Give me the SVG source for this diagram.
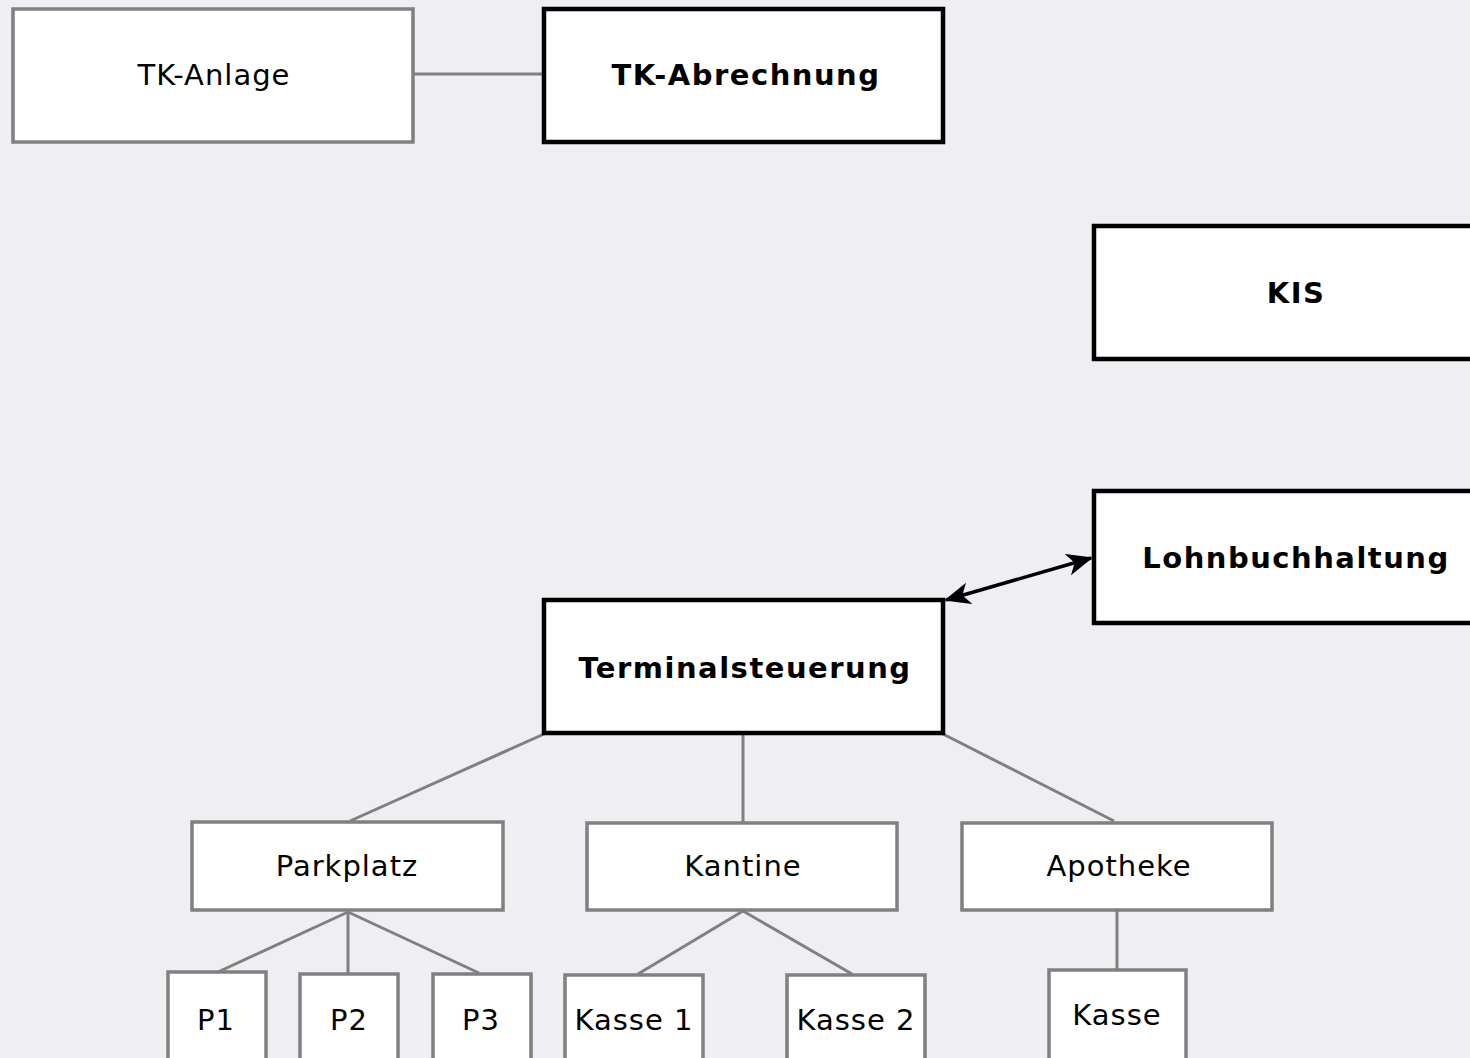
<svg xmlns="http://www.w3.org/2000/svg" width="1470" height="1058" viewBox="0 0 1470 1058">
  <defs>
    <style>
      .bg { fill: #eeeef3; }
      .box { fill: #ffffff; stroke: #808080; stroke-width: 3.5; }
      .main { fill: #ffffff; stroke: #000000; stroke-width: 4.5; }
      .lbl { font-family: "DejaVu Sans", "Noto Sans", sans-serif; font-size: 29px; fill: #000000; text-anchor: middle; letter-spacing: 1px; }
      .bold { font-weight: bold; letter-spacing: 1.5px; }
      .link { stroke: #808080; stroke-width: 3; fill: none; }
      .flow { stroke: #000000; stroke-width: 3.5; fill: none; }
    </style>
    <marker id="head" viewBox="0 0 26 24" refX="24" refY="12" markerWidth="26" markerHeight="24" markerUnits="userSpaceOnUse" orient="auto-start-reverse">
      <path d="M0,1 L26,12 L0,23 L7,12 Z" fill="#000000"/>
    </marker>
  </defs>

  <rect class="bg" x="0" y="0" width="1470" height="1058"/>

  <!-- connectors -->
  <g id="connectors">
    <line class="link" x1="413" y1="74" x2="544" y2="74"/>
    <line class="link" x1="544" y1="734" x2="350" y2="821"/>
    <line class="link" x1="743" y1="734" x2="743" y2="822"/>
    <line class="link" x1="943" y1="734" x2="1114" y2="821"/>
    <line class="link" x1="348" y1="912" x2="218" y2="972"/>
    <line class="link" x1="348" y1="912" x2="348" y2="973"/>
    <line class="link" x1="348" y1="912" x2="479" y2="973"/>
    <line class="link" x1="743" y1="911" x2="638" y2="974"/>
    <line class="link" x1="743" y1="911" x2="852" y2="974"/>
    <line class="link" x1="1117" y1="911" x2="1117" y2="970"/>
    <line class="flow" x1="946" y1="600" x2="1091" y2="558" marker-start="url(#head)" marker-end="url(#head)"/>
  </g>

  <!-- nodes -->
  <g id="tk-anlage">
    <rect class="box" x="13" y="9" width="400" height="133"/>
    <text class="lbl" x="214" y="85">TK-Anlage</text>
  </g>
  <g id="tk-abrechnung">
    <rect class="main" x="544" y="9" width="399" height="133"/>
    <text class="lbl bold" x="746" y="85">TK-Abrechnung</text>
  </g>
  <g id="kis">
    <rect class="main" x="1094" y="226" width="400" height="133"/>
    <text class="lbl bold" x="1296" y="303">KIS</text>
  </g>
  <g id="lohnbuchhaltung">
    <rect class="main" x="1094" y="491" width="400" height="132"/>
    <text class="lbl bold" x="1296" y="568">Lohnbuchhaltung</text>
  </g>
  <g id="terminalsteuerung">
    <rect class="main" x="544" y="600" width="399" height="133"/>
    <text class="lbl bold" x="745" y="678">Terminalsteuerung</text>
  </g>
  <g id="parkplatz">
    <rect class="box" x="192" y="822" width="311" height="88"/>
    <text class="lbl" x="347" y="876">Parkplatz</text>
  </g>
  <g id="kantine">
    <rect class="box" x="587" y="823" width="310" height="87"/>
    <text class="lbl" x="743" y="876">Kantine</text>
  </g>
  <g id="apotheke">
    <rect class="box" x="962" y="823" width="310" height="87"/>
    <text class="lbl" x="1119" y="876">Apotheke</text>
  </g>
  <g id="p1">
    <rect class="box" x="168" y="972" width="98" height="110"/>
    <text class="lbl" x="216" y="1030">P1</text>
  </g>
  <g id="p2">
    <rect class="box" x="300" y="974" width="98" height="110"/>
    <text class="lbl" x="349" y="1030">P2</text>
  </g>
  <g id="p3">
    <rect class="box" x="433" y="974" width="98" height="110"/>
    <text class="lbl" x="481" y="1030">P3</text>
  </g>
  <g id="kasse-1">
    <rect class="box" x="565" y="975" width="138" height="110"/>
    <text class="lbl" x="634" y="1030">Kasse 1</text>
  </g>
  <g id="kasse-2">
    <rect class="box" x="787" y="975" width="138" height="110"/>
    <text class="lbl" x="856" y="1030">Kasse 2</text>
  </g>
  <g id="kasse">
    <rect class="box" x="1049" y="970" width="137" height="110"/>
    <text class="lbl" x="1117" y="1025">Kasse</text>
  </g>
</svg>
